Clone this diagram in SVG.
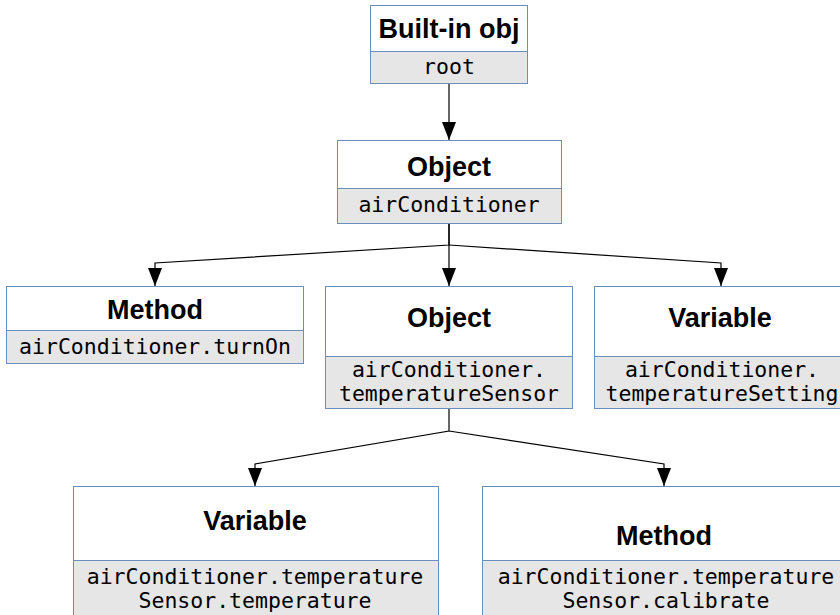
<svg xmlns="http://www.w3.org/2000/svg" width="840" height="615" viewBox="0 0 840 615">
<style>
.hd{fill:#ffffff;stroke:#6c8ebf;stroke-width:1}
.bd{fill:#e6e6e6;stroke:#6c8ebf;stroke-width:1}
.t{font-family:"Liberation Sans",Arial,sans-serif;font-weight:bold;font-size:27px;fill:#000;text-anchor:middle}
.m{font-family:"DejaVu Sans Mono",monospace;font-size:21.5px;fill:#000;text-anchor:middle}
.c{fill:none;stroke:#000;stroke-width:1.2}
</style>
<defs>
<marker id="ah" markerWidth="18" markerHeight="14" refX="18" refY="7" orient="auto" markerUnits="userSpaceOnUse" viewBox="0 0 18 14">
<path d="M0,0 L18,7 L0,14 Z" fill="#000"/>
</marker>
</defs>
<rect width="840" height="615" fill="#fff"/>
<g id="connectors">
<path class="c" d="M449,83 V140" marker-end="url(#ah)"/>
<path class="c" d="M449,223 V245 L155,263 V286" marker-end="url(#ah)"/>
<path class="c" d="M449,223 V286" marker-end="url(#ah)"/>
<path class="c" d="M449,245 L721,263 V286" marker-end="url(#ah)"/>
<path class="c" d="M449,408 V431 L255,464 V486" marker-end="url(#ah)"/>
<path class="c" d="M449,431 L664,464 V486" marker-end="url(#ah)"/>
</g>
<g id="root">
<rect class="hd" x="370.5" y="5.5" width="157" height="46"/>
<rect class="bd" x="370.5" y="51.5" width="157" height="32"/>
<text class="t" x="449" y="38">Built-in obj</text>
<text class="m" x="449" y="74">root</text>
</g>
<g id="airConditioner">
<rect class="hd" x="337.5" y="140.5" width="224" height="48"/>
<rect class="bd" x="337.5" y="188.5" width="224" height="35"/>
<text class="t" x="449" y="176">Object</text>
<text class="m" x="449" y="212">airConditioner</text>
</g>
<g id="turnOn">
<rect class="hd" x="6.5" y="286.5" width="297" height="44"/>
<rect class="bd" x="6.5" y="330.5" width="297" height="33"/>
<text class="t" x="155" y="319">Method</text>
<text class="m" x="155" y="354">airConditioner.turnOn</text>
</g>
<g id="temperatureSensor">
<rect class="hd" x="325.5" y="286.5" width="247" height="70"/>
<rect class="bd" x="325.5" y="356.5" width="247" height="52"/>
<text class="t" x="449" y="327">Object</text>
<text class="m" x="449" y="377">airConditioner.</text>
<text class="m" x="449" y="401">temperatureSensor</text>
</g>
<g id="temperatureSetting">
<rect class="hd" x="594.5" y="286.5" width="254" height="70"/>
<rect class="bd" x="594.5" y="356.5" width="254" height="52"/>
<text class="t" x="720" y="327">Variable</text>
<text class="m" x="722" y="377">airConditioner.</text>
<text class="m" x="722" y="401">temperatureSetting</text>
</g>
<g id="temperature">
<rect class="hd" x="73.5" y="486.5" width="365" height="74"/>
<rect class="bd" x="73.5" y="560.5" width="365" height="70"/>
<text class="t" x="255" y="530">Variable</text>
<text class="m" x="255" y="584">airConditioner.temperature</text>
<text class="m" x="255" y="608">Sensor.temperature</text>
</g>
<g id="calibrate">
<rect class="hd" x="482.5" y="486.5" width="364" height="74"/>
<rect class="bd" x="482.5" y="560.5" width="364" height="70"/>
<text class="t" x="664" y="545">Method</text>
<text class="m" x="666" y="584">airConditioner.temperature</text>
<text class="m" x="666" y="608">Sensor.calibrate</text>
</g>
</svg>
